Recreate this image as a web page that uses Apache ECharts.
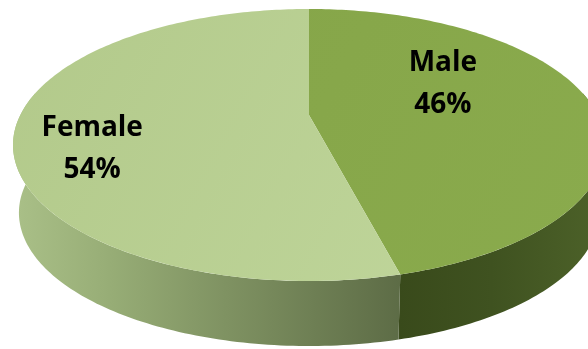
<!DOCTYPE html>
<html>
<head>
<meta charset="utf-8">
<script src="https://cdn.jsdelivr.net/npm/echarts@6/dist/echarts.min.js"></script>
<style>
  html, body { margin: 0; padding: 0; background: #ffffff; }
  #chart { width: 588px; height: 349px; }
</style>
</head>
<body>
<div id="chart"></div>
<script>
// Gender split, drawn as a tilted 3D pie
const categories = ['Male', 'Female'];
const shares = [46, 54];

// Colours per slice: top face (two gradient stops) and side wall (gradient stops)
const topColors = [
  ['#84a347', '#8aab4d'],
  ['#b2c98a', '#c2d89e']
];
const wallColors = [
  [[0, '#394a1b'], [0.45, '#3f5220'], [1, '#4d6229']],
  [[0, '#aac088'], [0.25, '#97ad76'], [0.55, '#7f9262'], [1, '#5d6c46']]
];

// Projection of the pie disc: perspective ellipse for the top face,
// bottom face pulled toward a vanishing point below the chart.
const view = {
  cx: 309, cy: 115,     // projected centre of the disc
  A: 288.7, B: 129.4,   // horizontal / vertical radii before perspective
  p: 0.2206,            // perspective strength (near edge larger)
  s: 0.98, vy: 3531     // bottom face scale and vanishing point y
};
// Where each label sits on the disc: [angle clockwise from 12 o'clock, radius fraction]
const labelSpot = [[62.7, 0.551], [250.7, 0.752]];

function projTop(theta, r) {
  const a = theta * Math.PI / 180;
  const u = r * Math.sin(a), v = -r * Math.cos(a);
  const d = 1 - view.p * v;
  return [view.cx + view.A * u / d, view.cy + view.B * v / d];
}
function projBottom(theta, r) {
  const t = projTop(theta, r);
  return [view.cx + view.s * (t[0] - view.cx), view.vy + view.s * (t[1] - view.vy)];
}

const total = shares.reduce((a, b) => a + b, 0);

function renderItem(params, api) {
  const i = params.dataIndex;
  let before = 0;
  for (let k = 0; k < i; k++) before += shares[k];
  const start = before / total * 360;
  const end = start + api.value(0) / total * 360;
  const children = [];

  // Front side wall (only the part facing the viewer)
  const w0 = Math.max(start, 80), w1 = Math.min(end, 280);
  if (w1 > w0) {
    const topArc = [], botArc = [];
    const n = Math.max(2, Math.ceil(w1 - w0));
    for (let j = 0; j <= n; j++) {
      const th = w0 + (w1 - w0) * j / n;
      topArc.push(projTop(th, 1));
      botArc.push(projBottom(th, 1));
    }
    const pts = topArc.concat(botArc.reverse());
    const xs = pts.map(q => q[0]);
    const x0 = Math.min.apply(null, xs), x1 = Math.max.apply(null, xs);
    children.push({
      type: 'polygon',
      z2: 1,
      shape: { points: pts },
      style: {
        fill: new echarts.graphic.LinearGradient(x0, 0, x1, 0,
          wallColors[i].map(s => ({ offset: s[0], color: s[1] })), true),
        stroke: null
      }
    });
  }

  // Top face sector
  const face = [projTop(0, 0)];
  const m = Math.max(2, Math.ceil(end - start));
  for (let j = 0; j <= m; j++) face.push(projTop(start + (end - start) * j / m, 1));
  children.push({
    type: 'polygon',
    z2: 5,
    shape: { points: face },
    style: {
      fill: new echarts.graphic.LinearGradient(view.cx - view.A, view.cy - view.B,
        view.cx + view.A, view.cy + view.B * 1.3,
        [{ offset: 0, color: topColors[i][0] }, { offset: 1, color: topColors[i][1] }], true),
      stroke: null
    }
  });

  // Label: category and share
  const lp = projTop(labelSpot[i][0], labelSpot[i][1]);
  children.push({
    type: 'text',
    z2: 10,
    style: {
      x: lp[0], y: lp[1],
      text: categories[i] + '\n' + api.value(0) + '%',
      align: 'center',
      verticalAlign: 'middle',
      fontFamily: 'Open Sans',
      fontWeight: 'bold',
      fontSize: 28,
      lineHeight: 42,
      fill: '#000000'
    }
  });

  return { type: 'group', children: children };
}

const chart = echarts.init(document.getElementById('chart'), null, { renderer: 'canvas' });
chart.setOption({
  backgroundColor: '#ffffff',
  animation: false,
  series: [{
    type: 'custom',
    coordinateSystem: 'none',
    renderItem: renderItem,
    data: shares.map((v, k) => ({ name: categories[k], value: [v] }))
  }]
});
</script>
</body>
</html>
